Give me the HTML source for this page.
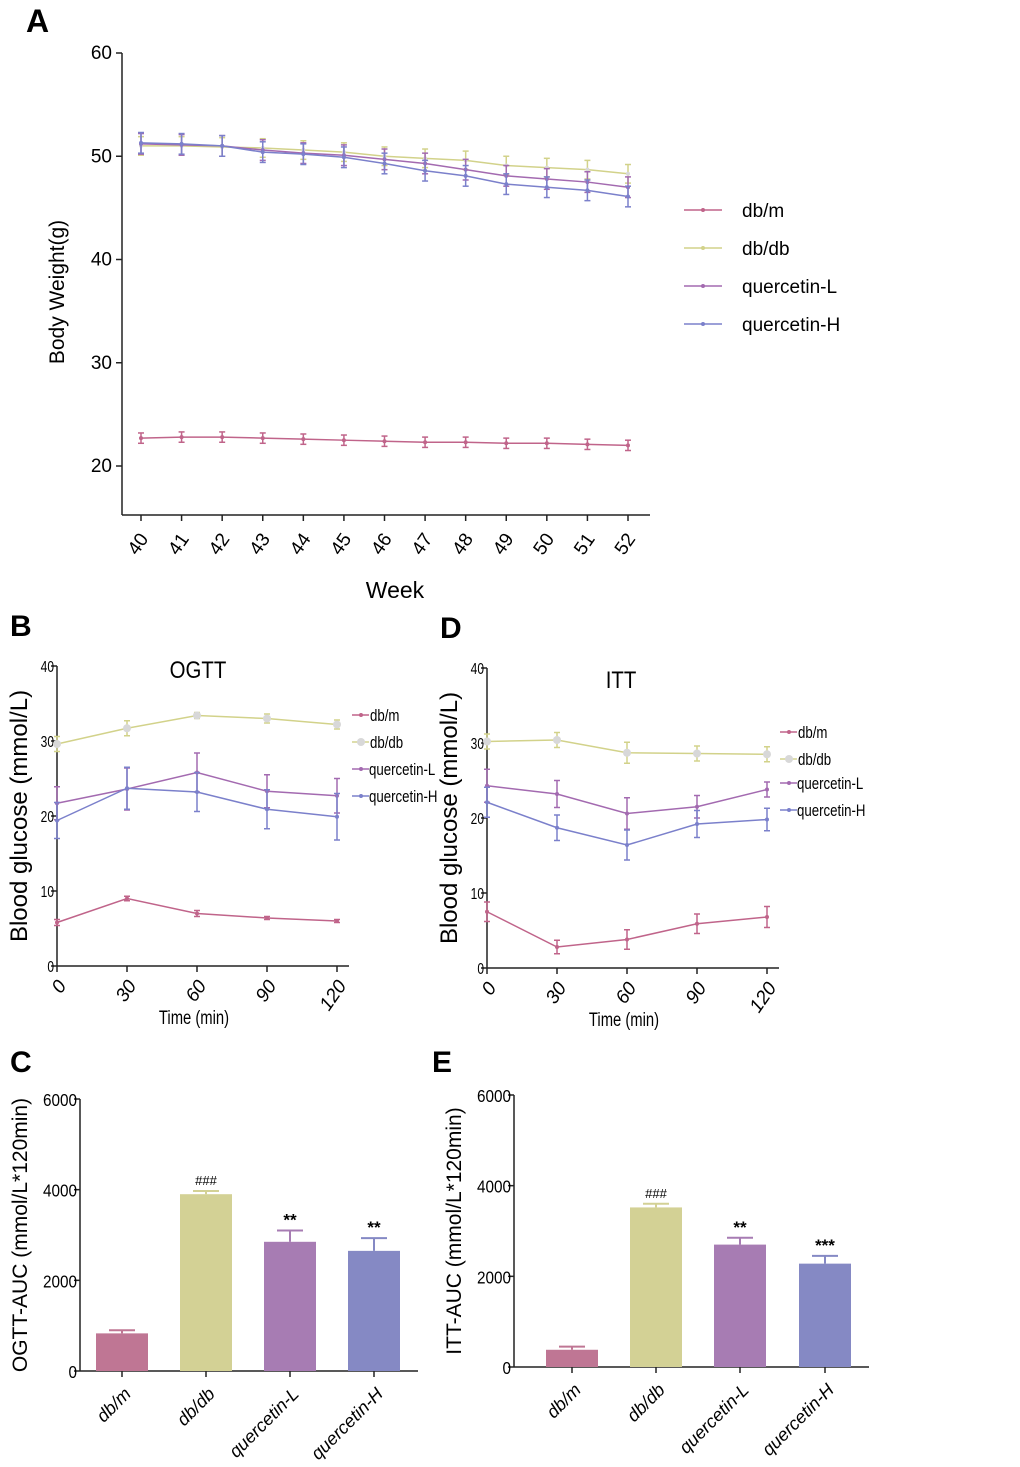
<!DOCTYPE html>
<html><head><meta charset="utf-8"><style>
body{margin:0;background:#fff;width:1020px;height:1467px;overflow:hidden;font-family:"Liberation Sans",sans-serif}
svg{position:absolute;left:0;top:0}
</style></head><body>
<svg id="s" width="1020" height="1467" xmlns="http://www.w3.org/2000/svg" font-family="Liberation Sans, sans-serif"></svg>
<script>
const groups=["db/m","db/db","quercetin-L","quercetin-H"];
const lineColors=["#c0648a","#d2d28a","#a36ab0","#7b80cb"];
const barColors=["#bf7694","#d3d195","#a77cb3","#8589c4"];
// Panel A
const weeks=[40,41,42,43,44,45,46,47,48,49,50,51,52];
const bwDbm=[22.7,22.8,22.8,22.7,22.6,22.5,22.4,22.3,22.3,22.2,22.2,22.1,22.0];
const bwDbdb=[51.0,51.0,50.9,50.8,50.6,50.4,50.0,49.8,49.6,49.1,48.9,48.7,48.3];
const bwL=[51.2,51.1,51.0,50.6,50.3,50.1,49.7,49.3,48.7,48.1,47.8,47.5,47.0];
const bwH=[51.3,51.2,51.0,50.4,50.2,49.9,49.3,48.6,48.1,47.3,47.0,46.7,46.1];
// Panel B (OGTT)
const times=[0,30,60,90,120];
const ogDbm=[5.8,9.0,7.0,6.4,6.0], ogDbmE=[0.4,0.3,0.4,0.2,0.2];
const ogDbdb=[29.6,31.7,33.4,33.0,32.2], ogDbdbE=[1.0,1.0,0.4,0.6,0.6];
const ogL=[21.7,23.6,25.8,23.3,22.7], ogLE=[2.2,2.8,2.6,2.2,2.3];
const ogH=[19.4,23.7,23.2,20.9,19.9], ogHE=[2.4,2.8,2.6,2.6,3.1];
// Panel D (ITT)
const itDbm=[7.5,2.8,3.8,5.9,6.8], itDbmE=[1.3,0.9,1.3,1.3,1.4];
const itDbdb=[30.2,30.4,28.7,28.6,28.5], itDbdbE=[1.0,1.0,1.4,1.0,1.0];
const itL=[24.3,23.2,20.6,21.5,23.8], itLE=[2.2,1.8,2.1,1.5,1.0];
const itH=[22.1,18.7,16.4,19.2,19.8], itHE=[2.0,1.7,2.0,1.8,1.5];
// Panels C/E
const ogAuc=[830,3900,2850,2650], ogAucE=[70,70,250,280];
const itAuc=[380,3520,2700,2280], itAucE=[70,80,150,170];
const ogStars=["","###","**","**"];
const itStars=["","###","**","***"];
const aucTicks=[0,2000,4000,6000];

const svg=document.getElementById('s');
const NS="http://www.w3.org/2000/svg";
function mk(tag,attrs,name,txt){const e=document.createElementNS(NS,tag);for(const k in attrs)e.setAttribute(k,attrs[k]);


if(txt!==undefined)e.textContent=txt;svg.appendChild(e);return e;}

function linePanel(o){
 const sx=v=>o.x0+(v-o.xmin)/(o.xmax-o.xmin)*(o.x1-o.x0);
 const sy=v=>o.y0-(v-o.ymin)/(o.ymax-o.ymin)*(o.y0-o.y1);
 mk('line',{x1:o.ax,y1:o.axTop,x2:o.ax,y2:o.axBot,stroke:'#222','stroke-width':1.5},o.p+'-y-axis');
 mk('line',{x1:o.ax,y1:o.axBot,x2:o.axRight,y2:o.axBot,stroke:'#222','stroke-width':1.5},o.p+'-x-axis');
 o.yt.forEach(t=>{const y=sy(t);mk('line',{x1:o.ax-6,y1:y,x2:o.ax,y2:y,stroke:'#222','stroke-width':1.5},o.p+'-y-tick');
  mk('text',{x:o.ax-(o.tickGap||8),y:y+6,'text-anchor':'end','font-size':o.ytfs||o.tfs,transform:o.ytTf?`translate(${o.ax-3},${y}) scale(0.75,1) translate(${-(o.ax-3)},${-y})`:''},o.p+'-y-tick-label',t);});
 o.xs.forEach(t=>{const x=sx(t);mk('line',{x1:x,y1:o.axBot,x2:x,y2:o.axBot+6,stroke:'#222','stroke-width':1.5},o.p+'-x-tick');
  mk('text',{x:x+(o.xlDx||0),y:o.axBot+o.xlOff,'text-anchor':'end','font-size':o.tfs,'font-style':o.ital?'italic':'normal',transform:`rotate(-55 ${x+(o.xlDx||0)} ${o.axBot+o.xlOff-5})`},o.p+'-x-tick-label',t);});
 o.series.forEach((s,i)=>{
  const pts=s.v.map((v,j)=>sx(o.xs[j])+','+sy(v)).join(' ');
  mk('polyline',{points:pts,fill:'none',stroke:lineColors[i],'stroke-width':1.5},o.p+'-line-'+groups[i]);
  s.v.forEach((v,j)=>{const x=sx(o.xs[j]);const e=s.e[j];
   mk('line',{x1:x,y1:sy(v-e),x2:x,y2:sy(v+e),stroke:lineColors[i],'stroke-width':1.5},o.p+'-errorbar');
   mk('line',{x1:x-3,y1:sy(v+e),x2:x+3,y2:sy(v+e),stroke:lineColors[i],'stroke-width':1.5},o.p+'-errorcap');
   mk('line',{x1:x-3,y1:sy(v-e),x2:x+3,y2:sy(v-e),stroke:lineColors[i],'stroke-width':1.5},o.p+'-errorcap');
   mk('circle',{cx:x,cy:sy(v),r:i==1?o.bigR:2,fill:i==1?'#d8d8d8':lineColors[i]},o.p+'-point');});
 });
}
// Panel A
mk('text',{x:26,y:32,'font-size':32,'font-weight':'bold'},'panel-label-a','A');
linePanel({p:'a',x0:141,x1:628,xmin:40,xmax:52,y0:466,y1:53,ymin:20,ymax:60,ax:122,axTop:53,axBot:515,axRight:650,
 yt:[20,30,40,50,60],xs:weeks,tfs:19,xlOff:26,xlDx:4,bigR:2,tickGap:10,
 series:[{v:bwDbm,e:bwDbm.map(()=>0.5)},{v:bwDbdb,e:bwDbdb.map(()=>0.9)},{v:bwL,e:bwL.map(()=>1.0)},{v:bwH,e:bwH.map(()=>1.0)}]});
mk('text',{x:0,y:0,'font-size':21,transform:'translate(64,292) rotate(-90)','text-anchor':'middle'},'a-y-axis-title','Body Weight(g)');
mk('text',{x:395,y:598,'font-size':23,'text-anchor':'middle'},'a-x-axis-title','Week');
groups.forEach((g,i)=>{const y=210+i*38;mk('line',{x1:684,y1:y,x2:722,y2:y,stroke:lineColors[i],'stroke-width':1.5},'a-legend-line');
 mk('circle',{cx:703,cy:y,r:2,fill:lineColors[i]},'a-legend-marker');
 mk('text',{x:742,y:y+7,'font-size':19},'a-legend-entry',g);});

function glucose(p,ox,oy,title,data,legY,legDx,titleX,titleY){
 mk('text',{x:ox-47,y:oy-30,'font-size':30,'font-weight':'bold'},'panel-label-'+p,p.toUpperCase());
 linePanel({p:p,x0:ox,x1:ox+280,xmin:0,xmax:120,y0:oy+300,y1:oy,ymin:0,ymax:40,ax:ox,axTop:oy,axBot:oy+300,axRight:ox+292,
  yt:[0,10,20,30,40],xs:times,tfs:19,ytfs:16,xlOff:22,xlDx:6,ital:1,bigR:4,tickGap:3,ytTf:1,series:data});
 mk('text',{x:0,y:0,'font-size':24,transform:`translate(${ox-30},${oy+150}) rotate(-90)`,'text-anchor':'middle'},p+'-y-axis-title','Blood glucose (mmol/L)');
 mk('text',{x:0,y:0,'font-size':19,transform:`translate(${ox+137},${oy+358}) scale(0.78,1)`,'text-anchor':'middle'},p+'-x-axis-title','Time (min)');
 mk('text',{x:0,y:0,'font-size':24,transform:`translate(${titleX},${titleY}) scale(0.85,1)`,'text-anchor':'middle'},p+'-title',title);
 groups.forEach((g,i)=>{const y=legY[i];const lx=ox+legDx;
  mk('line',{x1:lx,y1:y,x2:lx+17,y2:y,stroke:i==1?'#d4d490':lineColors[i],'stroke-width':1.5},p+'-legend-line');
  mk('circle',{cx:lx+9,cy:y,r:i==1?4:2,fill:i==1?'#d8d8d8':lineColors[i]},p+'-legend-marker');
  mk('text',{x:0,y:0,'font-size':17,transform:`translate(${lx+(i>=2?17:18)},${y+6}) scale(0.78,1)`},p+'-legend-entry',g);});
}
glucose('b',57,666,'OGTT',[{v:ogDbm,e:ogDbmE},{v:ogDbdb,e:ogDbdbE},{v:ogL,e:ogLE},{v:ogH,e:ogHE}],[715,742,769,796],295,198,678);
glucose('d',487,668,'ITT',[{v:itDbm,e:itDbmE},{v:itDbdb,e:itDbdbE},{v:itL,e:itLE},{v:itH,e:itHE}],[732,759,783,810],293,621,688);

function barPanel(p,ax,y0,y6,centers,vals,errs,stars,title,labX,labY){
 const sy=v=>y0-v/6000*(y0-y6);
 mk('text',{x:labX,y:labY,'font-size':30,'font-weight':'bold'},'panel-label-'+p,p.toUpperCase());
 mk('line',{x1:ax,y1:y6,x2:ax,y2:y0,stroke:'#222','stroke-width':1.5},p+'-y-axis');
 mk('line',{x1:ax,y1:y0,x2:centers[3]+44,y2:y0,stroke:'#222','stroke-width':1.5},p+'-x-axis');
 aucTicks.forEach(t=>{const y=sy(t);mk('line',{x1:ax-6,y1:y,x2:ax,y2:y,stroke:'#222','stroke-width':1.5},p+'-y-tick');
  mk('text',{x:0,y:0,'font-size':18,'text-anchor':'end',transform:`translate(${ax-3},${y+7}) scale(0.85,1)`},p+'-y-tick-label',t);});
 vals.forEach((v,i)=>{const c=centers[i];
  mk('line',{x1:c,y1:sy(v),x2:c,y2:sy(v+errs[i]),stroke:barColors[i],'stroke-width':2},p+'-errorbar');
  mk('line',{x1:c-13,y1:sy(v+errs[i]),x2:c+13,y2:sy(v+errs[i]),stroke:barColors[i],'stroke-width':2},p+'-errorcap');
  mk('rect',{x:c-26,y:sy(v),width:52,height:y0-sy(v),fill:barColors[i]},p+'-bar-'+groups[i]);
  mk('line',{x1:c,y1:y0,x2:c,y2:y0+6,stroke:'#222','stroke-width':1.5},p+'-x-tick');
  mk('text',{x:0,y:0,'font-size':18,'font-style':'italic','text-anchor':'end',transform:`translate(${c+10},${y0+24}) rotate(-45)`},p+'-x-tick-label',groups[i]);
  if(stars[i])mk('text',{x:c,y:sy(v+errs[i])-(stars[i][0]=='#'?6:5),'font-size':stars[i][0]=='#'?13:17,'font-weight':stars[i][0]=='#'?'normal':'bold','text-anchor':'middle'},p+'-significance',stars[i]);
 });
 mk('text',{x:0,y:0,'font-size':21,transform:`translate(${ax-53},${(y0+y6)/2}) rotate(-90)`,'text-anchor':'middle'},p+'-y-axis-title',title);
}
barPanel('c',80,1371,1099,[122,206,290,374],ogAuc,ogAucE,ogStars,'OGTT-AUC (mmol/L*120min)',10,1072);
barPanel('e',514,1367,1095,[572,656,740,825],itAuc,itAucE,itStars,'ITT-AUC (mmol/L*120min)',432,1072);
</script>
</body></html>
